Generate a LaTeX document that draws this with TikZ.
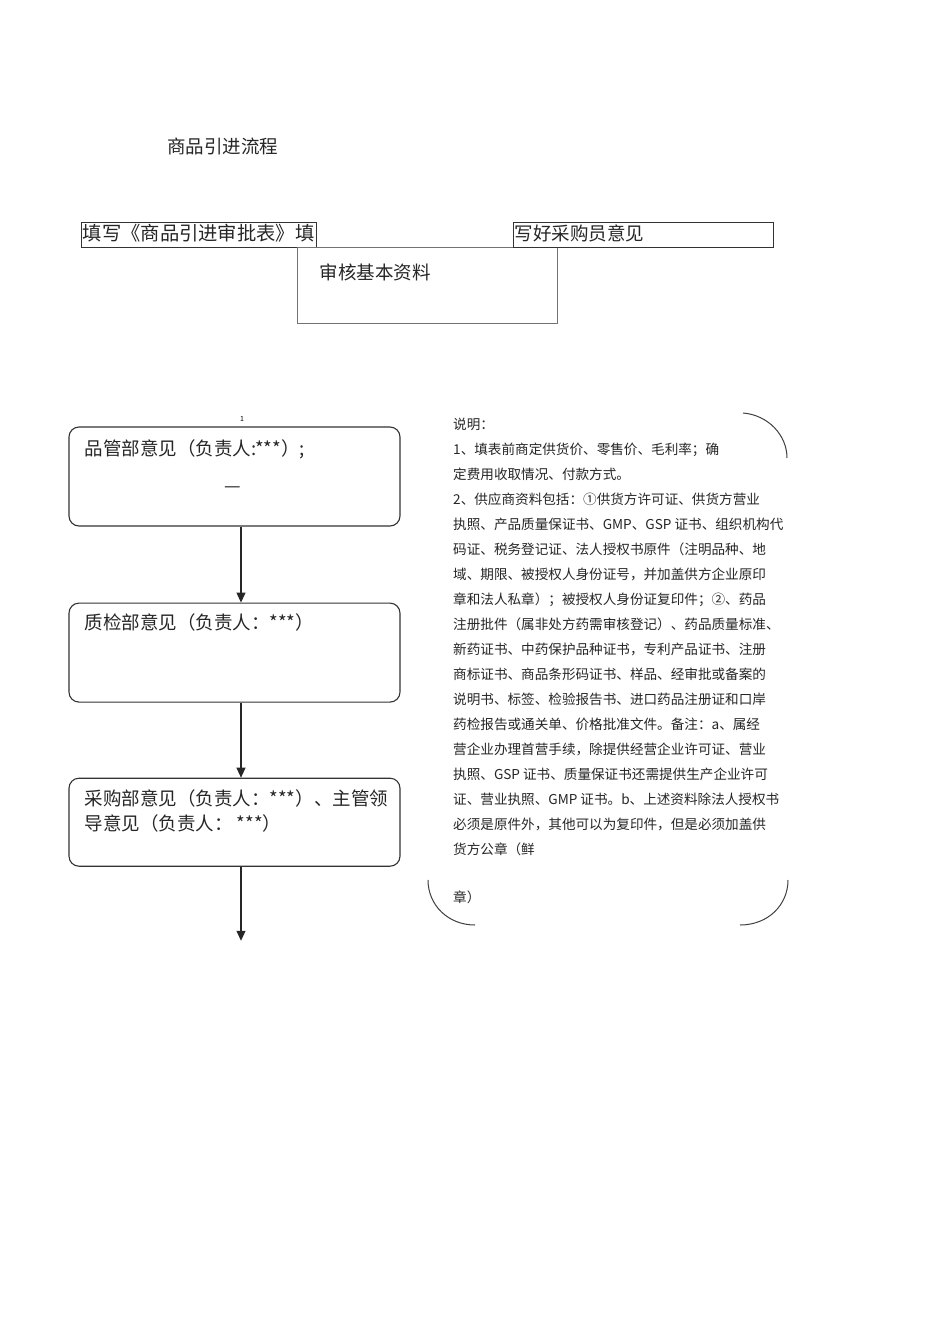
\documentclass[tikz,border=0pt]{standalone}
\usepackage{fontspec}
\setmainfont{Noto Sans CJK SC}
\usetikzlibrary{positioning,arrows.meta,calc}
\tikzset{
  hd/.style={font=\fontsize{18.5}{22}\selectfont, text=black!85, inner sep=0pt},
  sq/.style={draw=black!80, line width=0.8pt, inner sep=0pt},
  rb/.style={draw=black!80, line width=1.1pt, rounded corners=10pt, minimum width=331pt, inner sep=0pt},
  tx/.style={font=\fontsize{18.5}{25}\selectfont, text=black!85, inner sep=0pt, anchor=base west, align=left},
  nt/.style={font=\fontsize{13.6}{25}\selectfont, text=black!85, inner sep=0pt, align=left},
  fl/.style={-{Triangle[length=10pt,width=9pt]}, black!85, line width=1.1pt},
  br/.style={black!75, line width=1pt},
}
\begin{document}
\begin{tikzpicture}[x=1pt,y=-1pt,node distance=76pt]
\useasboundingbox[fill=white] (0,0) rectangle (950,1344);
\node[hd, anchor=base west] (title) at (167,153) {商品引进流程};
% top row
\node[sq, minimum width=235pt, minimum height=25pt] (form) at (198.5,234.5) {};
\node[sq, draw=black!55, minimum width=260pt, minimum height=76pt] (check) at (427,285) {};
\node[sq, minimum width=260pt, minimum height=25pt] (buyer) at (643,234.5) {};
\node[tx, font=\fontsize{19.3}{22}\selectfont] (formt) at ([shift={(2pt,-19pt)}]form.north west) {填写《商品引进审批表》填};
\node[tx] (buyert) at ([shift={(2pt,-19pt)}]buyer.north west) {写好采购员意见};
\node[tx] (checkt) at ([shift={(23pt,-33pt)}]check.north west) {审核基本资料};
% flow
\node[font=\fontsize{7}{8}\selectfont, inner sep=0pt] (one) at (242,419) {1};
\node[rb, minimum height=99pt] (pinguan) at (234.5,476.5) {};
\node[rb, minimum height=99pt, below=of pinguan] (zhijian) {};
\node[rb, minimum height=88pt, below=75pt of zhijian] (caigou) {};
\node[tx] (pgt) at ([shift={(16pt,-29pt)}]pinguan.north west) {品管部意见（负责人:***）;};
\node[hd] (dash) at (233,490) {—};
\node[tx] (zjt) at ([shift={(16pt,-27pt)}]zhijian.north west) {质检部意见（负责人：***）};
\node[tx] (cgt) at ([shift={(16pt,-53pt)}]caigou.north west) {采购部意见（负责人：***）、主管领\\导意见（负责人： ***）};
\coordinate (end) at ([xshift=6.5pt,yshift=-74pt]caigou.south);
\draw[fl] ([xshift=6.5pt]pinguan.south) -- ([xshift=6.5pt]zhijian.north);
\draw[fl] ([xshift=6.5pt]zhijian.south) -- ([xshift=6.5pt]caigou.north);
\draw[fl] ([xshift=6.5pt]caigou.south) -- (end);
% note
\node[nt, anchor=north west] (note) at (453,418) {说明：\\
1、填表前商定供货价、零售价、毛利率；确\\
定费用收取情况、付款方式。\\
2、供应商资料包括：①供货方许可证、供货方营业\\
执照、产品质量保证书、GMP、GSP 证书、组织机构代\\
码证、税务登记证、法人授权书原件（注明品种、地\\
域、期限、被授权人身份证号，并加盖供方企业原印\\
章和法人私章）；被授权人身份证复印件；②、药品\\
注册批件（属非处方药需审核登记）、药品质量标准、\\
新药证书、中药保护品种证书，专利产品证书、注册\\
商标证书、商品条形码证书、样品、经审批或备案的\\
说明书、标签、检验报告书、进口药品注册证和口岸\\
药检报告或通关单、价格批准文件。备注：a、属经\\
营企业办理首营手续，除提供经营企业许可证、营业\\
执照、GSP 证书、质量保证书还需提供生产企业许可\\
证、营业执照、GMP 证书。b、上述资料除法人授权书\\
必须是原件外，其他可以为复印件，但是必须加盖供\\
货方公章（鲜\\[23pt]
章）};
\draw[br] (743,413) .. controls (768,415) and (787,435) .. (787,458);
\draw[br] (428,880) .. controls (428,905) and (448,925) .. (475,925);
\draw[br] (788,880) .. controls (788,905) and (768,925) .. (740,925);
\end{tikzpicture}
\end{document}
